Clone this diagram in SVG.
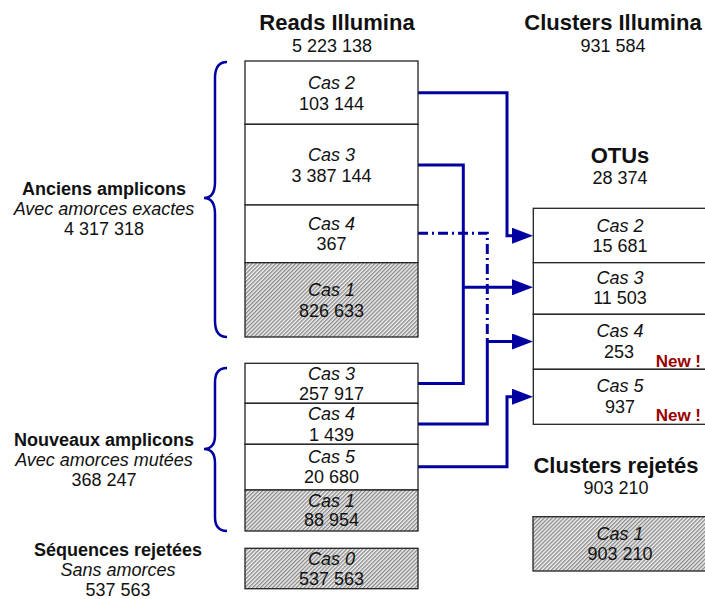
<svg xmlns="http://www.w3.org/2000/svg" width="705" height="599" viewBox="0 0 705 599">
<defs>
<pattern id="hatch" patternUnits="userSpaceOnUse" width="2.8" height="2.8" patternTransform="rotate(45)">
<rect width="2.8" height="2.8" fill="#f4f4f4"/>
<line x1="0.7" y1="0" x2="0.7" y2="2.8" stroke="#7a7a7a" stroke-width="1.2"/>
</pattern>
<marker id="arr" markerUnits="userSpaceOnUse" markerWidth="21" markerHeight="16" refX="8" refY="8" orient="auto">
<path d="M0,0 L21,8 L0,16 z" fill="#0000a0"/>
</marker>
<style>
text{font-family:"Liberation Sans",Arial,sans-serif;text-anchor:middle;fill:#111}
.h{font-size:22px;font-weight:bold}
.n{font-size:18px}
.i{font-size:18px;font-style:italic}
.b{font-size:18px;font-weight:bold}
.new{font-size:17px;font-weight:bold;fill:#990000;text-anchor:end}
.box{fill:#ffffff;stroke:#222;stroke-width:1.3}
.hb{fill:url(#hatch);stroke:#222;stroke-width:1.3}
.c{fill:none;stroke:#0000a0;stroke-width:3}
.br{fill:none;stroke:#0000a0;stroke-width:2.5}
</style>
</defs>
<rect width="705" height="599" fill="#ffffff"/>

<g id="headers">
<text class="h" x="337" y="30">Reads Illumina</text>
<text class="n" x="332" y="52">5 223 138</text>
<text class="h" x="613" y="30">Clusters Illumina</text>
<text class="n" x="613" y="52">931 584</text>
<text class="h" x="620" y="163">OTUs</text>
<text class="n" x="620" y="184">28 374</text>
<text class="h" x="616" y="473">Clusters rejetés</text>
<text class="n" x="616" y="494">903 210</text>
</g>

<g id="label-anciens">
<text class="b" x="104" y="195">Anciens amplicons</text>
<text class="i" x="104" y="215">Avec amorces exactes</text>
<text class="n" x="104" y="235">4 317 318</text>
<path class="br" d="M227,62 Q215,62 215,78 L215,182 Q215,198 204,198 Q215,198 215,214 L215,321 Q215,337 227,337"/>
</g>
<g id="label-nouveaux">
<text class="b" x="104" y="446">Nouveaux amplicons</text>
<text class="i" x="104" y="466">Avec amorces mutées</text>
<text class="n" x="104" y="486">368 247</text>
<path class="br" d="M227,368 Q215,368 215,382 L215,435 Q215,449 204,449 Q215,449 215,463 L215,517 Q215,531 227,531"/>
</g>
<g id="label-rejetees">
<text class="b" x="118" y="556">Séquences rejetées</text>
<text class="i" x="118" y="576">Sans amorces</text>
<text class="n" x="118" y="596">537 563</text>
</g>

<g id="connectors">
<path class="c" d="M418,92.7 H507 V235.7 H520" marker-end="url(#arr)"/>
<path class="c" d="M418,165 H463.3 V383.5 H418"/>
<path class="c" d="M463.3,287.3 H520" marker-end="url(#arr)"/>
<path class="c" d="M418,233.3 H487.3 V340" stroke-dasharray="10,4,2,4" stroke-width="2.5"/>
<path class="c" d="M418,424 H487.3 V341.5 H520" marker-end="url(#arr)"/>
<path class="c" d="M418,466.7 H507 V396.7 H520" marker-end="url(#arr)"/>
</g>

<g id="a-cas2">
<rect class="box" x="245" y="61" width="173" height="63.3"/>
<text class="i" x="331.5" y="89">Cas 2</text>
<text class="n" x="331.5" y="109.5">103 144</text>
</g>
<g id="a-cas3">
<rect class="box" x="245" y="124.3" width="173" height="80.7"/>
<text class="i" x="331.5" y="161">Cas 3</text>
<text class="n" x="331.5" y="181.5">3 387 144</text>
</g>
<g id="a-cas4">
<rect class="box" x="245" y="205" width="173" height="57.7"/>
<text class="i" x="331.5" y="230">Cas 4</text>
<text class="n" x="331.5" y="250">367</text>
</g>
<g id="a-cas1">
<rect class="hb" x="245" y="262.7" width="173" height="74.3"/>
<text class="i" x="331.5" y="296">Cas 1</text>
<text class="n" x="331.5" y="316.5">826 633</text>
</g>

<g id="n-cas3">
<rect class="box" x="245" y="363.3" width="173" height="40"/>
<text class="i" x="331.5" y="380">Cas 3</text>
<text class="n" x="331.5" y="400">257 917</text>
</g>
<g id="n-cas4">
<rect class="box" x="245" y="403.3" width="173" height="41"/>
<text class="i" x="331.5" y="420">Cas 4</text>
<text class="n" x="331.5" y="440.5">1 439</text>
</g>
<g id="n-cas5">
<rect class="box" x="245" y="444.3" width="173" height="45.7"/>
<text class="i" x="331.5" y="463.3">Cas 5</text>
<text class="n" x="331.5" y="483.3">20 680</text>
</g>
<g id="n-cas1">
<rect class="hb" x="245" y="490" width="173" height="41"/>
<text class="i" x="331.5" y="506.7">Cas 1</text>
<text class="n" x="331.5" y="526">88 954</text>
</g>
<g id="r-cas0">
<rect class="hb" x="245" y="548.3" width="173" height="40.4"/>
<text class="i" x="331.5" y="565">Cas 0</text>
<text class="n" x="331.5" y="585">537 563</text>
</g>

<g id="otu-cas2">
<rect class="box" x="533.3" y="208.3" width="180" height="54.4"/>
<text class="i" x="620" y="231.7">Cas 2</text>
<text class="n" x="620" y="251.7">15 681</text>
</g>
<g id="otu-cas3">
<rect class="box" x="533.3" y="262.7" width="180" height="51.6"/>
<text class="i" x="620" y="284">Cas 3</text>
<text class="n" x="620" y="303.5">11 503</text>
</g>
<g id="otu-cas4">
<rect class="box" x="533.3" y="314.3" width="180" height="55"/>
<text class="i" x="620" y="337.3">Cas 4</text>
<text class="n" x="619" y="358.3">253</text>
<text class="new" x="701" y="366.7">New !</text>
</g>
<g id="otu-cas5">
<rect class="box" x="533.3" y="369.3" width="180" height="55"/>
<text class="i" x="620" y="391.7">Cas 5</text>
<text class="n" x="620" y="413.3">937</text>
<text class="new" x="701" y="421">New !</text>
</g>
<g id="rej-cas1">
<rect class="hb" x="533" y="516.7" width="180" height="54.3"/>
<text class="i" x="620" y="540">Cas 1</text>
<text class="n" x="620" y="560">903 210</text>
</g>
</svg>
